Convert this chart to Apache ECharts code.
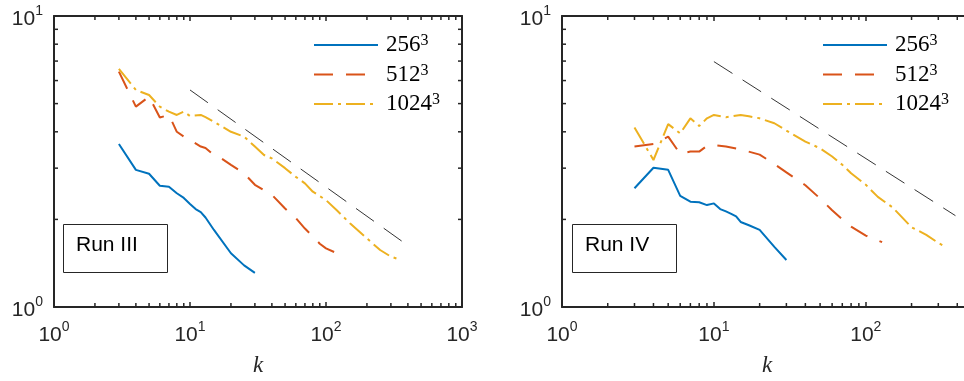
<!DOCTYPE html>
<html>
<head>
<meta charset="utf-8">
<script src="https://cdn.jsdelivr.net/npm/echarts@6/dist/echarts.min.js"></script>
<style>
  html, body { margin: 0; padding: 0; background: #fff; }
  #main { width: 964px; height: 381px; }
</style>
</head>
<body>
<div id="main"></div>
<script>
// Run III (left panel)
var kL256 = [3, 4, 5, 6, 7, 8, 9, 10, 11, 12, 13, 15, 20, 25, 30];
var vL256 = [3.63, 2.96, 2.87, 2.61, 2.59, 2.46, 2.37, 2.26, 2.17, 2.12, 2.03, 1.84, 1.53, 1.39, 1.31];
var kL512 = [3, 4, 5, 6, 7, 8, 9, 10, 12, 13, 15, 17, 20, 25, 30, 40, 50, 60, 70, 80, 90, 100, 128];
var vL512 = [6.44, 4.88, 5.28, 4.48, 4.57, 4.00, 3.85, 3.75, 3.56, 3.52, 3.33, 3.24, 3.08, 2.88, 2.63, 2.43, 2.18, 2.02, 1.86, 1.75, 1.65, 1.59, 1.51];
var kL1024 = [3, 4, 5, 6, 7, 8, 9, 10, 12, 13, 15, 20, 25, 30, 35, 40, 50, 60, 70, 80, 100, 120, 150, 200, 250, 300, 340];
var vL1024 = [6.58, 5.57, 5.35, 4.88, 4.69, 4.57, 4.69, 4.53, 4.57, 4.49, 4.33, 4.00, 3.85, 3.56, 3.33, 3.24, 3.00, 2.80, 2.66, 2.49, 2.33, 2.15, 1.94, 1.72, 1.57, 1.49, 1.46];
var refL = [[10, 5.57], [370, 1.67]];

// Run IV (right panel)
var kR256 = [3, 4, 5, 6, 7, 8, 9, 10, 11, 12, 13, 14, 15, 17, 20, 25, 30];
var vR256 = [2.56, 3.01, 2.96, 2.41, 2.30, 2.29, 2.24, 2.27, 2.17, 2.13, 2.09, 2.05, 1.96, 1.91, 1.84, 1.61, 1.45];
var kR512 = [3, 4, 5, 6, 7, 8, 9, 10, 12, 15, 20, 25, 30, 40, 50, 60, 70, 80, 100, 128];
var vR512 = [3.56, 3.63, 3.85, 3.36, 3.42, 3.42, 3.58, 3.60, 3.56, 3.48, 3.34, 3.10, 2.90, 2.62, 2.36, 2.15, 2.00, 1.89, 1.76, 1.67];
var kR1024 = [3, 4, 5, 6, 7, 8, 9, 10, 12, 15, 17, 20, 25, 30, 40, 50, 60, 70, 80, 100, 120, 150, 200, 250, 300, 340];
var vR1024 = [4.14, 3.20, 4.25, 3.95, 4.45, 4.19, 4.45, 4.57, 4.49, 4.57, 4.52, 4.45, 4.28, 4.04, 3.70, 3.51, 3.29, 3.08, 2.88, 2.63, 2.39, 2.20, 1.88, 1.77, 1.66, 1.60];
var refR = [[10, 6.97], [389, 2.06]];

var names = ['256', '512', '1024'];
var xMinor = [2, 3, 4, 5, 6, 7, 8, 9, 20, 30, 40, 50, 60, 70, 80, 90, 200, 300, 400, 500, 600, 700, 800, 900];
var yMinor = [2, 3, 4, 5, 6, 7, 8, 9];

var blue = '#0072BD', red = '#D95319', yellow = '#EDB120', axisCol = '#262626';

function pairs(k, v) {
  return k.map(function (x, i) { return [x, v[i]]; });
}

var supRich = {
  b: { fontSize: 21, fontFamily: 'Liberation Sans', color: axisCol, lineHeight: 30 },
  s: { fontSize: 14, fontFamily: 'Liberation Sans', color: axisCol, lineHeight: 14, verticalAlign: 'top' }
};
function powLabel(v) {
  var e = Math.log10(v);
  if (Math.abs(e - Math.round(e)) > 1e-6) return '';
  return '{b|10}{s|' + Math.round(e) + '}';
}

function xAxes(grid, max) {
  return [{
    type: 'log', gridIndex: grid, min: 1, max: max, position: 'bottom',
    axisLine: { lineStyle: { color: axisCol, width: 2 } },
    axisTick: { inside: true, length: 5, lineStyle: { color: axisCol, width: 1.5 } },
    splitLine: { show: false },
    axisLabel: { margin: 13, formatter: powLabel, rich: supRich },
    name: 'k', nameLocation: 'middle', nameGap: 47,
    nameTextStyle: { fontFamily: 'Liberation Serif', fontStyle: 'italic', fontSize: 23, color: axisCol }
  }, {
    type: 'log', gridIndex: grid, min: 1, max: max, position: 'top',
    axisLine: { lineStyle: { color: axisCol, width: 2 } },
    axisTick: { inside: true, length: 5, lineStyle: { color: axisCol, width: 1.5 } },
    splitLine: { show: false }, axisLabel: { show: false }
  }];
}
function yAxes(grid) {
  return [{
    type: 'log', gridIndex: grid, min: 1, max: 10, position: 'left',
    axisLine: { lineStyle: { color: axisCol, width: 2 } },
    axisTick: { inside: true, length: 5, lineStyle: { color: axisCol, width: 1.5 } },
    splitLine: { show: false },
    axisLabel: { margin: 11, padding: [6, 0, 0, 0], formatter: powLabel, rich: supRich }
  }, {
    type: 'log', gridIndex: grid, min: 1, max: 10, position: 'right',
    axisLine: { lineStyle: { color: axisCol, width: 2 } },
    axisTick: { inside: true, length: 5, lineStyle: { color: axisCol, width: 1.5 } },
    splitLine: { show: false }, axisLabel: { show: false }
  }];
}

function minorX(params, api) {
  var cs = params.coordSys;
  var x = api.coord([api.value(0), 1])[0];
  if (x > cs.x + cs.width) return null;
  var st = { stroke: axisCol, lineWidth: 1.5 };
  return { type: 'group', children: [
    { type: 'line', shape: { x1: x, y1: cs.y + cs.height, x2: x, y2: cs.y + cs.height - 4 }, style: st },
    { type: 'line', shape: { x1: x, y1: cs.y, x2: x, y2: cs.y + 4 }, style: st }
  ] };
}
function minorY(params, api) {
  var cs = params.coordSys;
  var y = api.coord([1, api.value(1)])[1];
  var st = { stroke: axisCol, lineWidth: 1.5 };
  return { type: 'group', children: [
    { type: 'line', shape: { x1: cs.x, y1: y, x2: cs.x + 4, y2: y }, style: st },
    { type: 'line', shape: { x1: cs.x + cs.width, y1: y, x2: cs.x + cs.width - 4, y2: y }, style: st }
  ] };
}

function panelSeries(xi, yi, d256, d512, d1024, ref) {
  return [
    { name: '256', type: 'line', xAxisIndex: xi, yAxisIndex: yi, data: d256, symbol: 'none',
      lineStyle: { color: blue, width: 2 }, itemStyle: { color: blue } },
    { name: '512', type: 'line', xAxisIndex: xi, yAxisIndex: yi, data: d512, symbol: 'none',
      lineStyle: { color: red, width: 2, type: [19, 13] }, itemStyle: { color: red } },
    { name: '1024', type: 'line', xAxisIndex: xi, yAxisIndex: yi, data: d1024, symbol: 'none',
      lineStyle: { color: yellow, width: 2, type: [19, 5, 3, 5] }, itemStyle: { color: yellow } },
    { name: 'ref', type: 'line', xAxisIndex: xi, yAxisIndex: yi, data: ref, symbol: 'none',
      lineStyle: { color: '#000', width: 0.8, type: [22, 12] } },
    { type: 'custom', xAxisIndex: xi, yAxisIndex: yi, renderItem: minorX, silent: true,
      data: xMinor.map(function (k) { return [k, 1]; }) },
    { type: 'custom', xAxisIndex: xi, yAxisIndex: yi, renderItem: minorY, silent: true,
      data: yMinor.map(function (v) { return [1, v]; }) }
  ];
}

function legendAt(left) {
  return {
    data: names, orient: 'vertical', left: left, top: 33, padding: 0,
    itemWidth: 64, itemHeight: 14, itemGap: 6, selectedMode: false,
    itemStyle: { opacity: 0 },
    formatter: function (n) { return '{n|' + n + '}{s|3}'; },
    textStyle: {
      padding: [0, 0, 0, 3],
      rich: {
        n: { fontSize: 23, fontFamily: 'Liberation Serif', color: '#000', lineHeight: 24 },
        s: { fontSize: 16, fontFamily: 'Liberation Serif', color: '#000', lineHeight: 16, verticalAlign: 'top' }
      }
    }
  };
}

function runBox(x, label) {
  return [
    { type: 'rect', left: x, top: 224, shape: { width: 104, height: 48 },
      style: { fill: '#fff', stroke: axisCol, lineWidth: 1 } },
    { type: 'text', left: x + 13, top: 235,
      style: { text: label, fontSize: 21, fontFamily: 'Liberation Sans', fill: '#000' } }
  ];
}

var chart = echarts.init(document.getElementById('main'));
chart.setOption({
  animation: false,
  grid: [
    { left: 54, top: 16, width: 408, height: 291, outerBoundsMode: 'none', containLabel: false },
    { left: 562, top: 16, width: 410, height: 291, outerBoundsMode: 'none', containLabel: false }
  ],
  xAxis: xAxes(0, 1000).concat(xAxes(1, 500)),
  yAxis: yAxes(0).concat(yAxes(1)),
  legend: [legendAt(313), legendAt(822)],
  graphic: runBox(63, 'Run III').concat(runBox(572, 'Run IV')),
  series: panelSeries(0, 0, pairs(kL256, vL256), pairs(kL512, vL512), pairs(kL1024, vL1024), refL)
    .concat(panelSeries(2, 2, pairs(kR256, vR256), pairs(kR512, vR512), pairs(kR1024, vR1024), refR))
});
</script>
</body>
</html>
